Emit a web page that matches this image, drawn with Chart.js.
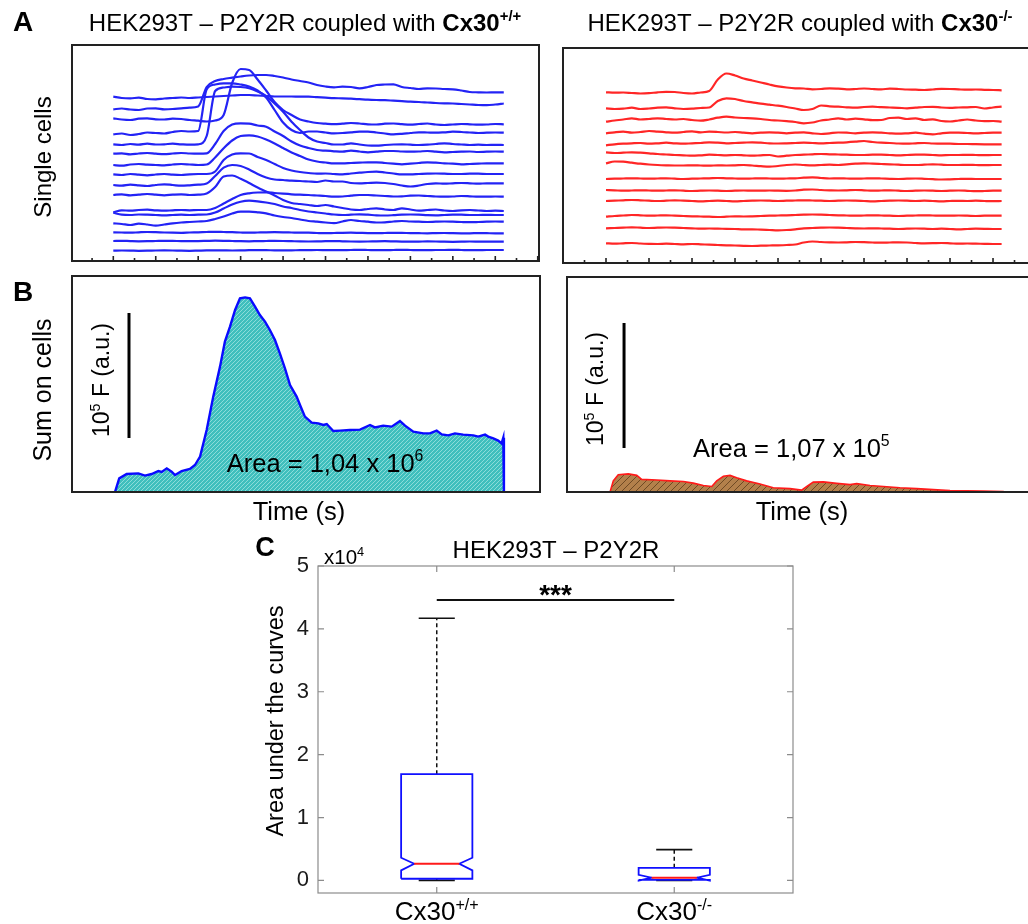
<!DOCTYPE html>
<html>
<head>
<meta charset="utf-8">
<title>HEK293T – P2Y2R</title>
<script src="https://cdn.jsdelivr.net/npm/chart.js@4.4.1/dist/chart.umd.min.js"></script>
<style>
  html, body { margin: 0; padding: 0; background: #fff; overflow: hidden; }
  body { width: 1028px; height: 924px; position: relative; }
  canvas { position: absolute; left: 0; top: 0; }
</style>
</head>
<body>
<canvas id="single-wt" width="1028" height="924"></canvas>
<canvas id="single-ko" width="1080" height="924"></canvas>
<canvas id="sum-wt" width="1028" height="924"></canvas>
<canvas id="sum-ko" width="1080" height="924"></canvas>
<canvas id="auc" width="1028" height="924"></canvas>
<script>
const FONT = "'Liberation Sans', Arial, Helvetica, sans-serif";

// ---- A: single cell traces (time in s, fluorescence offset per cell) ----
const traceTime = [0,0.4,0.8,1.2,1.6,2,2.4,2.8,3.2,3.6,4,4.4,4.8,5.2,5.6,6,6.4,6.8,7.2,7.6,8,8.4,8.8,9.2,9.6,10,10.4,10.8,11.2,11.6,12,12.4,12.8,13.2,13.6,14,14.4,14.8,15.2,15.6,16,16.4,16.8,17.2,17.6,18,18.4];

const wtCell01 = [164.3,163,162.7,163.3,162,161.7,162.5,163,163.5,163,163.5,164,164.5,165,165.5,166,166,165.5,165,164.5,164.5,164.5,164.3,164.3,163.8,163.3,162.8,162.7,162.3,161.8,161.3,161,160.8,160.3,159.8,159.3,159,158.5,158,157.7,157.5,157,156.5,156,155.8,156.5,157.5];
const wtCell02 = [151.7,152.5,151.5,151,152.5,152.7,151.7,152,152.7,153.3,154.5,174,180,182,183.3,184.5,185.5,186,186,185,183.5,181.5,180,178.5,176,174.5,173.7,174.3,174,172.7,174,176,176.5,176.7,174,173,172,172.7,172.5,172,171.7,170.5,169,168.7,168.5,168.7,168.7];
const wtCell03 = [142.7,141.5,141,142.3,142.7,141.7,141.5,142.3,142,141,140.3,139.5,140.5,146,178,192,191,181.5,170.5,159,151,146,141.5,139.5,138,137.3,136.8,137.3,138,137.5,136.7,136.5,137.3,137.5,136.8,136.3,137,137.5,136.5,136,136.5,137,136.7,136.3,136.5,137,136.7];
const wtCell04 = [126.7,127.5,126,127,128.5,128,127.5,129,130,129.5,130,171.5,176.5,177.7,177.7,176.5,174.5,170.5,163.5,151,138.5,131,128,129.5,129.5,128.5,127.7,128,128.7,129.3,129.3,128.5,127.5,126.7,127.2,128,128.7,128.5,128.3,128.7,129.3,129,128.5,128,128.3,128.5,128.3];
const wtCell05 = [116.7,116,117,116.3,117.3,116.5,116.7,117.3,116.7,116.3,116.7,125,170,173.5,174.3,174,172.7,169.5,165,157.5,149.3,139.3,131,123.5,119.5,118,116.5,116.5,117.7,116.5,115.5,115.3,116,116.5,116.7,116.3,116,116.3,117,117.7,117,116.5,116,116.3,116,116.2,116];
const wtCell06 = [107.3,107.7,106.7,107.5,108,107.3,106.8,107.5,108,107.5,107.3,107.7,117,130,136.5,137.7,137.3,135.5,134.3,129.5,125,119.5,115.5,113,111,110.3,109.7,109.3,110.3,109.5,108.7,109.3,110,110,109.5,109.3,109.5,110,109.3,108.7,109,109.3,109.5,109,109.3,109.5,109.3];
const wtCell07 = [96,95.3,96.5,97,96.3,96,95.7,96.5,97,96.5,96,96.5,103.5,112.7,120.5,125,125.7,124.5,121.5,117.5,113,108.5,105,101.5,99.5,98.5,97.7,97.7,98,98.3,98.7,98.7,98,97.3,96.7,97.3,98,98.7,98.3,97.7,97.3,96.7,97,97.3,97.7,97.7,97.7];
const wtCell08 = [86.7,86,87,86.3,85.7,86.5,87,86.3,86,86.7,87,87,89.5,101,106.5,107.7,107.5,104,101,97,93,90.5,89,88,87.3,87.5,87,86.7,87.5,88.3,89,89.3,88.5,87.5,86.7,86.7,87,87.3,87.5,87.3,87,87,87.3,87.3,87,87,87];
const wtCell09 = [76,75.3,76.3,75.7,75,76,76.7,76,75.3,75.7,76.3,77.5,85,93.3,96,95,91.5,87,83.5,81.5,81,80.3,80,79.5,79,80.5,79.5,79.5,78,77.7,78,78.3,78,77,75.5,74.5,75.5,77,77.7,77.3,77.7,78,77.7,77.3,77.7,77.7,77.7];
const wtCell10 = [66,66.7,65.7,66.3,67,66.3,65.7,66.3,66.7,66,66.3,67.5,74,84.5,85.5,82.3,78,73.5,69.5,65.5,61,58,57,56,55,56,54.5,53,51.5,51,52,52.7,51.5,51,52.7,51.5,50.3,51,51.5,50.5,50,50.7,51,50.5,50,50.3,50];
const wtCell11 = [48.7,50.7,50.3,51,51.3,50.7,50.3,50.7,51,50.7,51,51,53,57.5,62,66,67.7,68.5,68.7,68,67.3,66.7,66.3,66,65.5,65,64.3,64.5,65.3,66,66,65.5,65,64.5,64.7,65.3,65.5,65,64.5,64.3,64.5,65,64.7,64.3,64.3,64.5,64.3];
const wtCell12 = [48.2,46.3,46,46.5,46.3,46,45.7,46,46.3,46,46.3,46.5,48.5,52.5,56.5,59.3,60.3,59.7,58.5,57,54.5,53,51,49.5,48.5,47.5,46.5,46,46.3,46.7,46.3,45.7,45.5,45.8,46.3,46.5,46.3,45.8,45.7,46,46.3,46.3,46,46,46.2,46,46];
const wtCell13 = [37.7,37,36,37.3,36.5,35.3,36.5,37.7,38.5,39,39.5,40,42,44.5,47.5,49.3,49.3,48.7,47.7,45.5,44,43,41.5,40,39.3,38.5,37.8,39.5,41,40,39.3,38.5,38.7,39.5,40,39.5,39.3,39,39.3,39.5,39.3,39,38.8,39,39.3,39.5,39.3];
const wtCell14 = [28.7,28.5,28.3,28.7,29,28.8,28.5,28.3,28.2,28.5,28.7,29,29.2,29,28.8,28.5,28.3,28.5,28.7,28.8,28.7,28.5,28.3,28.3,28,27.8,28,28.2,28.3,28.1,27.9,27.8,28,28.2,28.1,27.9,27.8,27.7,27.9,28,27.8,27.7,27.7,27.9,27.8,27.7,27.7];
const wtCell15 = [20,20.2,19.9,19.7,19.8,20,20.2,20.1,19.9,19.8,19.9,20.1,20.3,20.2,20,19.8,19.7,19.9,20,20.1,20,19.8,19.6,19.5,19.6,19.8,19.9,19.7,19.5,19.4,19.5,19.7,19.8,19.6,19.4,19.3,19.4,19.6,19.5,19.3,19.2,19.3,19.5,19.4,19.3,19.3,19.3];
const wtCell16 = [10.3,10.5,10.4,10.2,10.3,10.5,10.6,10.5,10.3,10.2,10.4,10.6,10.7,10.6,10.5,10.6,10.8,10.9,10.8,10.7,10.6,10.7,10.8,10.9,11,10.9,10.8,10.9,11,11.1,11,10.9,10.9,11,11.1,11,10.9,10.9,11,11,11.1,11,10.9,10.9,11,11,11];

const koCell01 = [170.7,170.3,170.5,170,169.5,169.8,170.7,171.2,171,170,169.5,170.5,172,183.5,189.5,187.5,184.5,182.5,180.5,178.5,176.7,175.5,174.7,174.5,173.7,174,174.7,174.3,173.7,174,174.5,174,173.7,174.3,174,173.5,173.3,173,173.5,174.2,174,173.6,173.3,173.5,173.2,173,172.7];
const koCell02 = [154.7,154,154.3,155.3,154,154.5,155.3,155.7,154.7,154,154.3,155,155.5,162,164.7,164,162,160.7,159.3,158.3,157.3,156,154.5,153,154,157.5,156.7,156.3,155.7,155.3,156,156.3,155.8,155.5,155.2,154.7,155.3,156,156.2,155.5,155.2,155.5,155.7,156,154.5,155.5,156.3];
const koCell03 = [141.3,142.5,143.5,144.7,143.5,144,144.7,144,143.5,144,143,142.3,143.5,145.3,146.3,145.5,145,144.7,144,143,142.5,141.8,141,139.7,140.5,142.5,143.5,144.7,143.5,144.3,143.7,142.8,143,145,145.3,144,144.7,143,143.7,142,141.5,142.5,143.5,142.5,141.8,142,141.3];
const koCell04 = [129.7,130.7,131.3,130.3,131,132,131.3,130.7,130.3,131,131.7,130.7,131.3,131,130.5,131,130.3,129.7,130.3,130.7,130.3,129.7,130.3,130.7,129.7,129,129.7,130.5,130.3,129.7,130.3,130.7,130.3,129.7,129.3,129.7,130.3,129.3,128.7,129.7,130.3,130.3,130,129.7,130,130.3,130.3];
const koCell05 = [117.7,118.7,119.3,119.7,120,119.3,119.7,120.3,119.7,119.3,119.7,120,120.7,120.3,119.7,120,120.3,120.7,120.3,119.7,119.5,119.7,120,120.3,120,119.7,120,120.3,120.7,121.3,122,121,120.3,120,119.5,119.3,119.7,120,119.5,119.3,119.3,119,119,118.8,118.7,118.7,118.7];
const koCell06 = [110.7,110,110.3,110.7,110.3,109.7,109,108.5,108,107.7,107.3,107.7,108.3,108,107.7,108,107.7,107.3,107.7,108,106.5,107.3,108,108.3,108.7,109,108.7,108.5,108.3,108,108,108.3,108.3,108,107.7,108,108.3,108.3,108,107.7,108,108,108.2,108,107.8,108,108];
const koCell07 = [99.7,101.5,101.3,100.3,99.3,98.5,98,97.7,97.5,97.5,97.7,97.5,97.3,97.7,97.5,97.7,98,97.5,96.8,96.3,97,98,98.5,98,97.7,98,98.3,98,98.7,99.3,99.7,99.3,99,98.7,98.3,98,98,98.3,98.7,98.3,98,98,98.2,98,97.8,98,98];
const koCell08 = [84,84.3,84.5,84.7,84.5,84.3,84.5,84.7,84.3,84,84.3,84.5,84.7,85,84.7,84.5,84.3,84.5,84.7,84.5,84.3,84.5,84.7,85.3,85.7,85,84.5,84.7,84.5,84.3,84.5,84.7,84.5,84.2,84,84.3,84.5,84.2,83.8,83.5,83.7,84,84.2,84,84,84,84];
const koCell09 = [73,72.7,72.3,72.5,72.7,72.5,72.3,72.5,72.7,72.3,72,72.3,72.5,72.3,72,72.3,72.5,72.3,72.3,72.5,72.3,72.2,72.5,73.3,73.5,73,72.7,72.5,72.7,73,72.7,72.3,72.5,72.7,72.3,72,72.3,72.5,72.3,72,72.3,72.5,72.2,71.8,72,72.3,72.3];
const koCell10 = [62,62.3,62.7,63,62.7,62.3,62,62.3,62.7,62.3,62,61.7,62,62.3,62,61.7,62,62.3,62.5,62.3,62,62.3,62.5,62.7,62.5,62.3,62,62.3,62.5,62.3,62,61.7,62,62.3,62.5,62.3,62,62.3,62,61.7,62,62.2,62,62.3,62,61.8,62];
const koCell11 = [46.3,47,47.5,48,47.7,47.3,47.5,47.7,47.3,47,46.7,46.5,46.3,46,46.3,46.7,46.5,46.7,47,47.3,47.5,47.7,48,48.3,48.5,48.3,48,47.7,47.5,47.3,47.5,47.7,47.5,47.3,47,47.3,47.5,47.7,47.5,47.3,47.3,47.5,47.3,47,47.3,47.3,47.3];
const koCell12 = [34.7,35,35.3,35.7,35.3,35,35.3,35.5,35.3,35,34.7,34.3,34.5,34.3,34.2,34,33.7,33.7,33.3,33,32.7,33,33.7,34.7,35,35.3,35.5,35.3,35,34.7,34.5,34.7,34.5,34.3,34,34.3,34.5,34.3,34,34.3,34,33.7,34,34.3,34.2,34,34];
const koCell13 = [19.7,19.3,19.7,20,19.5,19.2,19,19.3,19,18.7,19,18.7,18.3,18,17.7,17.5,17.2,17,17.3,17.5,17.7,18,18.5,20.5,21.5,21,20.7,20.5,20.7,21,20.8,20.5,20.3,20.5,20.7,20.5,20,19.7,19.8,20,19.7,19.3,19.5,19.3,19.2,19,19];

const wtCells = [wtCell01, wtCell02, wtCell03, wtCell04, wtCell05, wtCell06, wtCell07, wtCell08,
                 wtCell09, wtCell10, wtCell11, wtCell12, wtCell13, wtCell14, wtCell15, wtCell16];
const koCells = [koCell01, koCell02, koCell03, koCell04, koCell05, koCell06, koCell07,
                 koCell08, koCell09, koCell10, koCell11, koCell12, koCell13];

// ---- B: fluorescence summed over all cells (F, a.u.) ----
const sumTimeWt = [0.08,0.28,0.63,1.18,1.49,1.81,2.12,2.28,2.52,2.75,2.91,3.22,3.61,3.85,4.09,4.40,4.71,5.03,5.26,5.50,5.74,5.97,6.21,6.44,6.68,6.91,7.15,7.38,7.62,7.85,8.09,8.33,8.64,8.80,9.03,9.35,9.66,9.90,10.06,10.37,10.68,11.15,11.63,12.10,12.33,12.72,13.12,13.51,13.75,14.14,14.61,14.92,15.24,15.48,15.79,16.10,16.49,16.97,17.20,17.52,17.67,17.91,18.14,18.30,18.38,18.41];
const sumWt = [0,10900,14400,14900,13100,14400,16800,16000,18900,16200,13600,16800,18400,21600,28300,49600,76300,100300,120300,132300,145600,154900,155700,154900,148300,141600,136300,129600,121600,110900,98900,85600,76300,69600,60300,55500,54900,53600,54400,48800,49100,49600,49900,53600,51700,53100,52300,56800,53100,48300,46900,46900,49100,46100,45300,46900,45900,45300,44300,45900,44300,42900,41100,38900,43500,0];
const sumTimeKo = [0.05,0.2,0.43,0.9,1.29,1.52,2.22,2.84,3.46,3.92,4.39,4.78,5.01,5.32,5.63,5.94,6.4,7.02,7.64,8.42,8.96,9.2,9.5,9.97,10.59,11.21,11.52,12.14,12.76,13.53,14.31,15.08,15.86,16.64,17.41,18.34,18.4];
const sumKo = [0,8900,13800,14500,13300,10100,9600,8900,8400,7100,5200,4400,8900,12600,13300,11400,8900,6400,3400,2700,1500,4400,7900,8100,6900,5900,6700,5200,4400,3400,2700,1900,1200,1000,700,300,0];

const scaleBarF = 100000;          // 10^5 F
const scaleBarWt = [0.74, 43200];  // time, lower end
const scaleBarKo = [0.70, 35200];

// ---- C: area under the curves, per group ----
const groupNames = [['Cx30', '+/+'], ['Cx30', '-/-']];
const aucTicks = [0, 10000, 20000, 30000, 40000, 50000];
const aucQ1 = [270, 100];
const aucMedian = [2650, 430];
const aucQ3 = [16900, 2000];
const aucNotchLow = [1600, -50];
const aucNotchHigh = [3600, 900];
const aucWhiskerLow = [0, 0];
const aucWhiskerHigh = [41700, 4900];
const aucSignificance = 44600;

// ---------------------------------------------------------------
function drawRich(ctx, parts, x, y, o) {
  const size = o.size;
  const segs = parts.map(p => {
    const [text, style = ''] = Array.isArray(p) ? p : [p];
    const sup = style.includes('sup');
    const fs = sup ? size * 0.62 : size;
    const font = (style.includes('b') ? 'bold ' : '') + fs + 'px ' + FONT;
    ctx.font = font;
    return { text, font, w: ctx.measureText(text).width, dy: sup ? -size * 0.4 : 0 };
  });
  const total = segs.reduce((s, g) => s + g.w, 0);
  ctx.save();
  ctx.translate(x, y);
  if (o.rotate) ctx.rotate(-Math.PI / 2);
  ctx.fillStyle = o.color || '#000';
  ctx.textAlign = 'left';
  ctx.textBaseline = 'alphabetic';
  let cx = o.align === 'left' ? 0 : o.align === 'right' ? -total : -total / 2;
  const base = size * 0.36;
  segs.forEach(g => { ctx.font = g.font; ctx.fillText(g.text, cx, base + g.dy); cx += g.w; });
  ctx.restore();
}

// text items: x/y in pixels, or tx/vy in data units
function textLayer(items) {
  return {
    id: 'texts',
    afterDraw(chart) {
      const sx = chart.scales.x, sy = chart.scales.y;
      items.forEach(it => {
        const x = it.tx !== undefined ? sx.getPixelForValue(it.tx) : it.x;
        const y = it.vy !== undefined ? sy.getPixelForValue(it.vy) : it.y;
        drawRich(chart.ctx, it.parts, x, y, it);
      });
    }
  };
}

// box round the plot area plus inward tick marks
function frameLayer(spec) {
  return {
    id: 'frame',
    afterDatasetsDraw(chart) {
      const { left, right, top, bottom } = chart.chartArea;
      const ctx = chart.ctx;
      ctx.save();
      ctx.strokeStyle = spec.color;
      ctx.lineWidth = spec.width;
      ctx.strokeRect(left, top, right - left, bottom - top);
      const ticks = (scale, t) => {
        if (!t) return;
        ctx.lineWidth = t.lineWidth || spec.width;
        ctx.beginPath();
        for (let k = Math.ceil(scale.min / t.step - 1e-9); k * t.step <= scale.max + 1e-9; k++) {
          const p = scale.getPixelForValue(k * t.step);
          const len = t.major && k % t.major !== 0 ? t.minorLen : t.len;
          t.sides.forEach(side => {
            if (side === 'bottom') { ctx.moveTo(p, bottom); ctx.lineTo(p, bottom - len); }
            if (side === 'top') { ctx.moveTo(p, top); ctx.lineTo(p, top + len); }
            if (side === 'left') { ctx.moveTo(left, p); ctx.lineTo(left + len, p); }
            if (side === 'right') { ctx.moveTo(right, p); ctx.lineTo(right - len, p); }
          });
        }
        ctx.stroke();
      };
      ticks(chart.scales.x, spec.xTicks);
      ticks(chart.scales.y, spec.yTicks);
      ctx.restore();
    }
  };
}

function hatch(bg, fg, gap, lw) {
  const c = document.createElement('canvas');
  c.width = gap; c.height = gap;
  const g = c.getContext('2d');
  g.fillStyle = bg;
  g.fillRect(0, 0, gap, gap);
  g.strokeStyle = fg;
  g.lineWidth = lw;
  g.beginPath();
  g.moveTo(-1, gap + 1); g.lineTo(gap + 1, -1);
  g.moveTo(-1, 1); g.lineTo(1, -1);
  g.moveTo(gap - 1, gap + 1); g.lineTo(gap + 1, gap - 1);
  g.stroke();
  return g.createPattern(c, 'repeat');
}

const xy = (ts, vs) => ts.map((t, i) => ({ x: t, y: vs[i] }));

function baseOptions(area, canvasW, xr, yr) {
  return {
    responsive: false,
    animation: false,
    devicePixelRatio: 1,
    events: [],
    layout: { autoPadding: false, padding: { left: area[0], top: area[1], right: canvasW - area[2], bottom: 924 - area[3] } },
    scales: {
      x: { type: 'linear', display: false, min: xr[0], max: xr[1] },
      y: { type: 'linear', display: false, min: yr[0], max: yr[1] }
    },
    plugins: { legend: { display: false }, tooltip: { enabled: false } }
  };
}

function traceSet(cells, color) {
  return cells.map(vals => ({
    data: xy(traceTime, vals),
    borderColor: color,
    borderWidth: 2.2,
    pointRadius: 0,
    fill: false,
    cubicInterpolationMode: 'monotone'
  }));
}

const timeTicks = { step: 1, major: 2, len: 5, minorLen: 3, lineWidth: 1.6, sides: ['bottom'] };

// A, Cx30 +/+
new Chart(document.getElementById('single-wt'), {
  type: 'line',
  data: { datasets: traceSet(wtCells, '#2323f5') },
  options: baseOptions([72, 45, 539, 261], 1028, [-1.946, 20.06], [0, 216]),
  plugins: [
    frameLayer({ color: '#222', width: 2, xTicks: timeTicks }),
    textLayer([
      { parts: [['A', 'b']], x: 23, y: 21, size: 28 },
      { parts: ['HEK293T – P2Y2R coupled with ', ['Cx30', 'b'], ['+/+', 'bsup']], x: 305, y: 22, size: 24 },
      { parts: ['Single cells'], x: 42, y: 157, size: 24, rotate: true }
    ])
  ]
});

// A, Cx30 -/-
new Chart(document.getElementById('single-ko'), {
  type: 'line',
  data: { datasets: traceSet(koCells, '#ff2626') },
  options: baseOptions([563, 48, 1050, 263], 1080, [-2.0, 20.65], [0, 215]),
  plugins: [
    frameLayer({ color: '#222', width: 2, xTicks: timeTicks }),
    textLayer([
      { parts: ['HEK293T – P2Y2R coupled with ', ['Cx30', 'b'], ['-/-', 'bsup']], x: 800, y: 22, size: 24 }
    ])
  ]
});

function scaleBar(pos) {
  return {
    data: [{ x: pos[0], y: pos[1] }, { x: pos[0], y: pos[1] + scaleBarF }],
    borderColor: '#000', borderWidth: 3, pointRadius: 0, fill: false
  };
}

// B, Cx30 +/+
new Chart(document.getElementById('sum-wt'), {
  type: 'line',
  data: {
    datasets: [
      scaleBar(scaleBarWt),
      {
        data: xy(sumTimeWt, sumWt),
        borderColor: '#0a0aff', borderWidth: 2.4, pointRadius: 0,
        fill: 'origin', backgroundColor: hatch('#3fbfbd', '#9ee3e0', 4, 0.8)
      }
    ]
  },
  options: baseOptions([72, 276, 540, 492], 1028, [-1.946, 20.11], [0, 172800]),
  plugins: [
    frameLayer({ color: '#222', width: 2 }),
    textLayer([
      { parts: [['B', 'b']], x: 23, y: 291, size: 28 },
      { parts: ['Sum on cells'], x: 42, y: 390, size: 25, rotate: true },
      { parts: ['Time (s)'], x: 299, y: 511, size: 25.5 },
      { parts: ['10', ['5', 'sup'], ' F (a.u.)'], tx: -0.58, vy: 89600, size: 23, rotate: true },
      { parts: ['Area = 1,04 x 10', ['6', 'sup']], tx: 9.98, vy: 23600, size: 25.5 }
    ])
  ]
});

// B, Cx30 -/-
new Chart(document.getElementById('sum-ko'), {
  type: 'line',
  data: {
    datasets: [
      scaleBar(scaleBarKo),
      {
        data: xy(sumTimeKo, sumKo),
        borderColor: '#ff1a1a', borderWidth: 1.6, pointRadius: 0,
        fill: 'origin', backgroundColor: hatch('#b3804b', '#6f4a24', 7, 1)
      }
    ]
  },
  options: baseOptions([567, 277, 1050, 492], 1080, [-1.953, 20.51], [0, 172000]),
  plugins: [
    frameLayer({ color: '#222', width: 2 }),
    textLayer([
      { parts: ['Time (s)'], x: 802, y: 511, size: 25.5 },
      { parts: ['10', ['5', 'sup'], ' F (a.u.)'], tx: -0.65, vy: 82400, size: 23, rotate: true },
      { parts: ['Area = 1,07 x 10', ['5', 'sup']], tx: 8.48, vy: 35600, size: 25.5 }
    ])
  ]
});

// C, notched box plots
const BOX_HALF = 0.15, NOTCH_HALF = 0.095, CAP_HALF = 0.076;
function seg(points, color, width, dash) {
  return {
    data: points.map(([x, y]) => ({ x, y })),
    borderColor: color, borderWidth: width, borderDash: dash || [],
    pointRadius: 0, fill: false, tension: 0
  };
}
function boxDatasets() {
  const medians = [], boxes = [], caps = [], whiskers = [];
  groupNames.forEach((g, i) => {
    const x = i + 1;
    const q1 = aucQ1[i], q3 = aucQ3[i], md = aucMedian[i], nl = aucNotchLow[i], nh = aucNotchHigh[i];
    medians.push(seg([[x - NOTCH_HALF, md], [x + NOTCH_HALF, md]], '#ff1a1a', 2));
    boxes.push(seg([
      [x - BOX_HALF, q1], [x - BOX_HALF, nl], [x - NOTCH_HALF, md], [x - BOX_HALF, nh], [x - BOX_HALF, q3],
      [x + BOX_HALF, q3], [x + BOX_HALF, nh], [x + NOTCH_HALF, md], [x + BOX_HALF, nl], [x + BOX_HALF, q1],
      [x - BOX_HALF, q1]
    ], '#1010ff', 1.8));
    caps.push(seg([[x - CAP_HALF, aucWhiskerHigh[i]], [x + CAP_HALF, aucWhiskerHigh[i]]], '#111', 1.6));
    caps.push(seg([[x - CAP_HALF, aucWhiskerLow[i]], [x + CAP_HALF, aucWhiskerLow[i]]], '#111', 1.6));
    whiskers.push(seg([[x, q3], [x, aucWhiskerHigh[i]]], '#111', 1.5, [4, 3]));
    whiskers.push(seg([[x, aucWhiskerLow[i]], [x, q1]], '#111', 1.5, [4, 3]));
  });
  const sig = seg([[1, aucSignificance], [2, aucSignificance]], '#111', 2);
  return [sig, ...medians, ...boxes, ...caps, ...whiskers];
}

const aucOptions = baseOptions([318, 566, 793, 893], 1028, [0.5, 2.5], [-2000, 50000]);
aucOptions.layout.padding.left = 258;
aucOptions.scales.y = {
  type: 'linear', min: -2000, max: 50000, position: 'left',
  grid: { display: false, drawTicks: false },
  border: { display: false },
  afterBuildTicks: s => { s.ticks = aucTicks.map(v => ({ value: v })); },
  ticks: {
    padding: 9, color: '#1a1a1a',
    font: { family: FONT, size: 22 },
    callback: v => v / 10000
  },
  afterFit: s => { s.width = 60; }
};

const xLabels = groupNames.map((g, i) => ({ parts: [g[0], [g[1], 'sup']], tx: i + 1, y: 911, size: 26 }));

new Chart(document.getElementById('auc'), {
  type: 'line',
  data: { datasets: boxDatasets() },
  options: aucOptions,
  plugins: [
    frameLayer({
      color: '#8c8c8c', width: 1.2,
      xTicks: { step: 1, len: 6, sides: ['bottom', 'top'] },
      yTicks: { step: 10000, len: 6, sides: ['left', 'right'] }
    }),
    textLayer([
      { parts: [['C', 'b']], x: 265, y: 546, size: 27 },
      { parts: ['HEK293T – P2Y2R'], x: 556, y: 549, size: 24 },
      { parts: ['x10', ['4', 'sup']], x: 324, y: 557, size: 20.5, align: 'left' },
      { parts: ['Area under the curves'], x: 275, y: 721, size: 23.5, rotate: true },
      { parts: [['***', 'b']], tx: 1.5, vy: 45600, size: 28 },
      ...xLabels
    ])
  ]
});
</script>
</body>
</html>
